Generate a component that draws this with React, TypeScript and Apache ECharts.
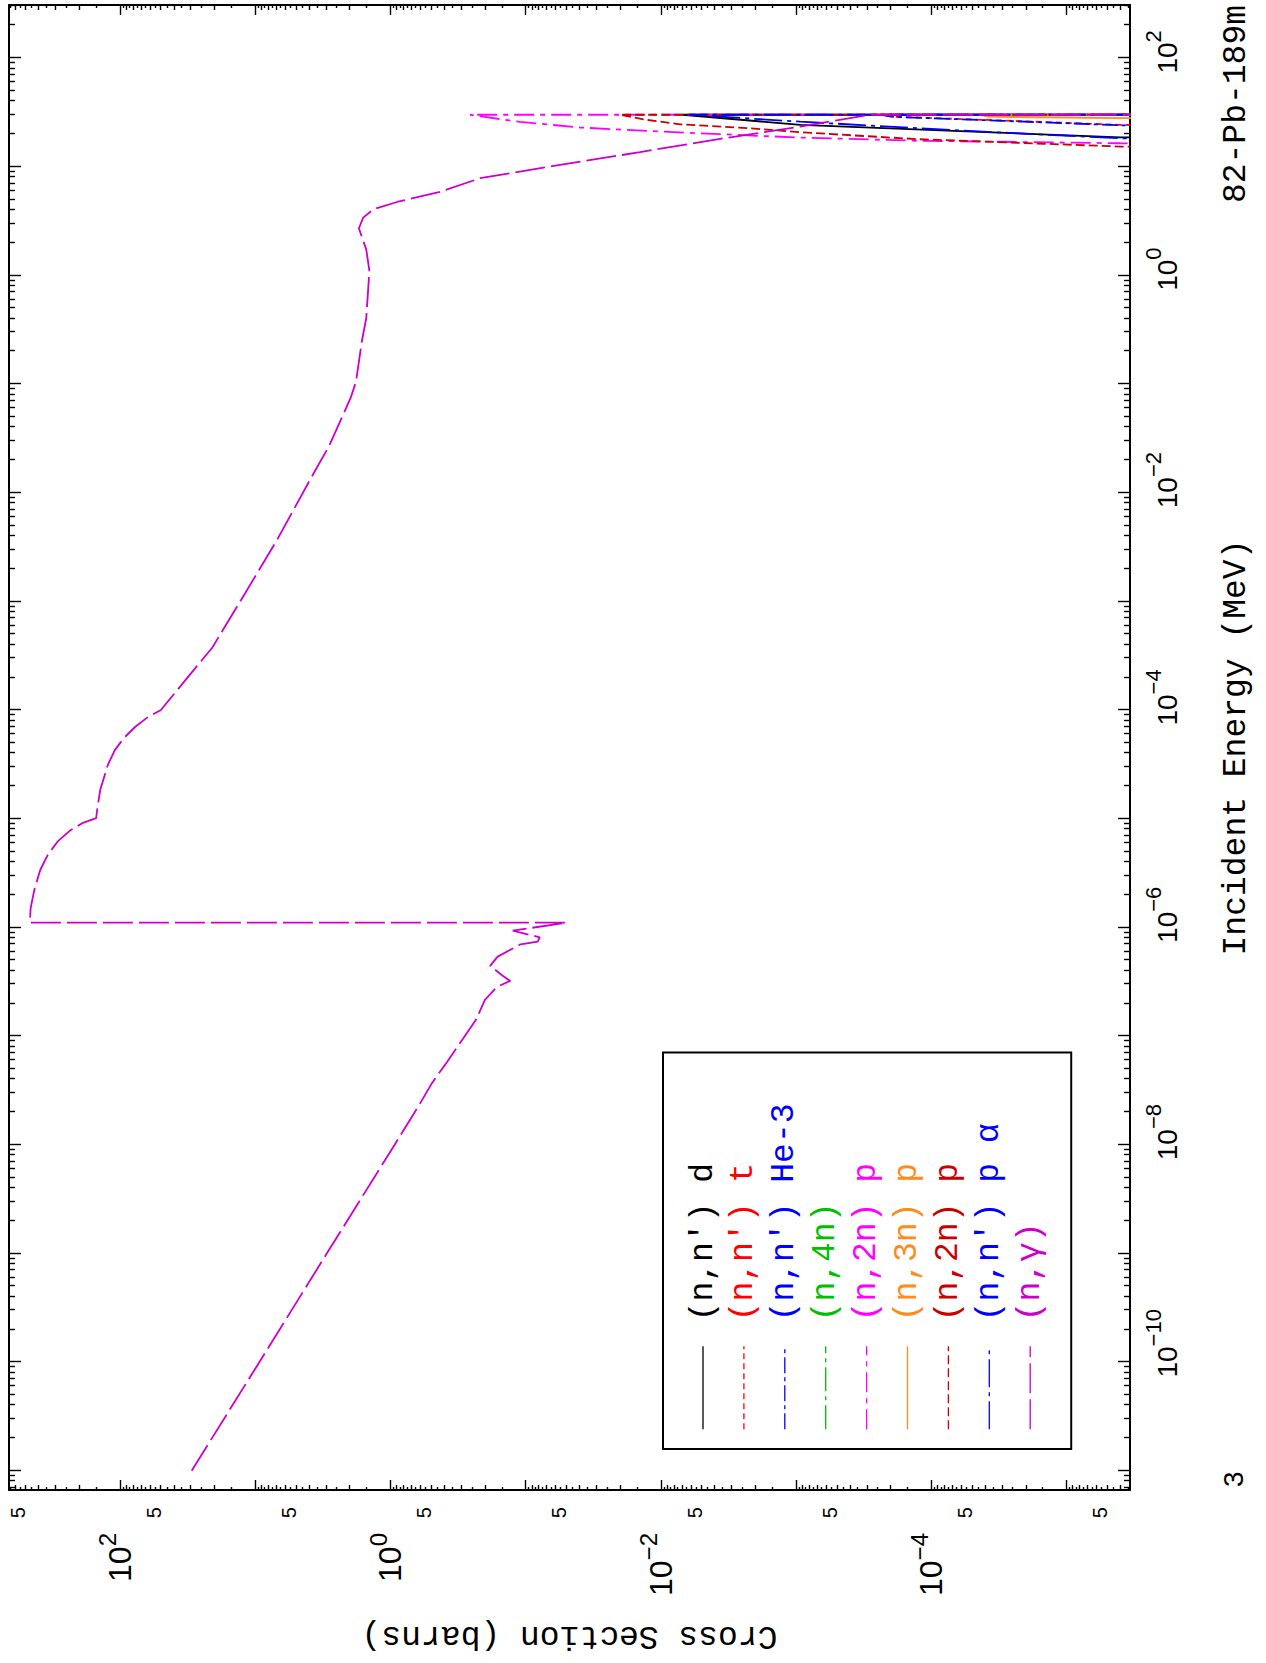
import React, { useEffect, useRef } from "react";
import * as echarts from "echarts";

// ---------------- data (incident energy in MeV, cross section in barns) ----------------
const energyAxisRange = [6.64e-12, 307];
const sigmaAxisRange = [3.39e-6, 662];

const energyLabelExps = [-10, -8, -6, -4, -2, 0, 2];
const sigmaLabelExps = [2, 0, -2, -4];
const sigmaFiveExps = [-6, -5, -4, -3, -2, -1, 0, 1, 2];

const nnD: [number, number][] = [
  [18.4, 1e-6], [18.6, 4.0e-6], [21.2, 6.1e-5], [24.2, 9.3e-4], [30, 6.9e-3], [30, 1e-7],
];
const nnT: [number, number][] = [
  [23.9, 1e-6], [24.2, 4.0e-6], [26.6, 3.1e-5], [28.8, 1.95e-4], [30, 2.4e-4], [30, 1e-7],
];
const nnHe3: [number, number][] = [
  [23.7, 1e-6], [24.0, 4.0e-6], [26.4, 3.0e-5], [28.7, 1.9e-4], [30, 2.35e-4], [30, 1e-7],
];
const n4n: [number, number][] = [];
const n2nP: [number, number][] = [
  [16.2, 1e-6], [16.4, 4.0e-6], [17.3, 1.27e-4], [18.5, 9.3e-4], [20.0, 4.1e-3], [21.3, 0.0127],
  [22.9, 0.0396], [25.8, 0.11], [28.8, 0.207], [30, 0.258], [30, 1e-7],
];
const n3nP: [number, number][] = [
  [27.8, 1e-6], [27.9, 4.0e-6], [28.8, 3.76e-5], [30, 4.35e-5], [30, 1e-7],
];
const n2nPb: [number, number][] = [
  [15.1, 1e-6], [15.3, 4.0e-6], [17.9, 1.27e-4], [20.7, 9.3e-4], [22.6, 2.3e-3], [24.5, 7.2e-3],
  [26.9, 0.0127], [30, 0.02], [30, 1e-7],
];
const nnPAlpha: [number, number][] = [
  [18.0, 1e-6], [18.2, 4.0e-6], [21.5, 6.1e-5], [25.9, 9.3e-4], [30, 6.2e-3], [30, 1e-7],
];
const nGamma: [number, number][] = [
  [1e-11, 29.5], [1e-10, 9.3], [1e-9, 2.95], [1e-8, 0.93], [2.34e-8, 0.61],
  [3.7e-8, 0.492], [5.77e-8, 0.381], [9.18e-8, 0.295], [1.41e-7, 0.233], [2.15e-7, 0.2],
  [2.83e-7, 0.163], [3.21e-7, 0.13], [3.57e-7, 0.147], [4.42e-7, 0.183], [5.37e-7, 0.161],
  [6.98e-7, 0.109], [7.38e-7, 0.0814], [8.1e-7, 0.0787], [9.31e-7, 0.1245], [1.104e-6, 0.0499],
  [1.104e-6, 464], [1.5e-6, 458], [2.21e-6, 430], [3.37e-6, 389], [4.64e-6, 342], [6.14e-6, 290],
  [7.87e-6, 231], [9.08e-6, 190], [1.01e-5, 150], [1.25e-5, 147], [1.84e-5, 140], [2.27e-5, 133],
  [3.12e-5, 123], [4.29e-5, 109], [5.53e-5, 93.4], [6.97e-5, 77.4], [8.61e-5, 62.1], [1.0e-4, 49.8],
  [1.11e-4, 46.5], [1.9e-4, 32.6], [3.74e-4, 20.8], [1.15e-3, 12.05], [3.55e-3, 7.0], [0.0122, 4.06],
  [0.0269, 2.84], [0.0743, 1.97], [0.104, 1.8], [0.254, 1.62], [0.4, 1.51], [1.1, 1.43],
  [1.73, 1.51], [2.71, 1.71], [3.39, 1.59], [4.06, 1.33], [4.75, 0.879], [5.85, 0.43], [7.82, 0.217],
  [10.36, 0.0557], [13.6, 0.01426], [18.0, 3.65e-3], [23.3, 9.3e-4], [30, 2.84e-4], [30, 1e-7],
];

const seriesKeys = ["nn_d", "nn_t", "nn_he3", "n_4n", "n_2n_p", "n_3n_p", "n_2n_p_b", "nn_p_alpha", "n_gamma"];
const legendLabels = [
  "(n,n\u2032) d", "(n,n\u2032) t", "(n,n\u2032) He-3", "(n,4n)", "(n,2n) p",
  "(n,3n) p", "(n,2n) p", "(n,n\u2032) p \u03b1", "(n,\u03b3)",
];
const seriesData = [nnD, nnT, nnHe3, n4n, n2nP, n3nP, n2nPb, nnPAlpha, nGamma];

// ---------------- styles ----------------
const seriesColors = ["#000000", "#ff0000", "#0000ff", "#00c000", "#ff00ff", "#ff8c1a", "#cc0000", "#0000ff", "#cc00cc"];
const seriesDashes: any[] = ["solid", [6, 4], [16, 4, 4, 4], [24, 5, 4, 5], [20, 6, 5, 6], "solid", [9, 4], [28, 5, 4, 5], [30, 6]];

const FONT_MONO = '"Liberation Mono", "DejaVu Sans Mono", monospace';
const FONT_SANS = '"Liberation Sans", Arial, sans-serif';

const W = 1663; // drawing is made in landscape and turned a quarter turn
const H = 1266;

const eLo = Math.log10(energyAxisRange[0]);
const eHi = Math.log10(energyAxisRange[1]);
const sLo = Math.log10(sigmaAxisRange[0]);
const sHi = Math.log10(sigmaAxisRange[1]);

function logTicks(lo: number, hi: number, mantissas: number[]) {
  const out: number[] = [];
  for (let n = Math.floor(lo) - 1; n <= Math.ceil(hi); n++) {
    for (const m of mantissas) {
      const v = n + Math.log10(m);
      if (v >= lo - 1e-9 && v <= hi + 1e-9) out.push(v);
    }
  }
  return out;
}

const energyMajor = logTicks(eLo, eHi, [1]);
const energyMinor = logTicks(eLo, eHi, [2, 3, 4, 5, 6, 7, 8, 9]);
const sigmaMajor = logTicks(sLo, sHi, [1]);
const sigmaMid = logTicks(sLo, sHi, [2, 3, 4, 5, 6, 7, 8, 9]);
const sigmaHalf = logTicks(sLo, sHi, [1.5, 2.5, 3.5, 4.5, 5.5, 6.5, 7.5, 8.5, 9.5]);

const supText = (n: number) => (n < 0 ? "\u2212" + -n : String(n));
const supWidth = (n: number, fs: number) => fs * (0.556 * String(Math.abs(n)).length + (n < 0 ? 0.584 : 0));

function tickAxis(position: string, min: number, max: number, values: number[], length: number, withLine: boolean, extra: any = {}) {
  return {
    type: "value",
    gridIndex: 0,
    position,
    min,
    max,
    axisLine: { show: withLine, onZero: false, lineStyle: { color: "#000", width: 2 } },
    axisTick: { show: true, inside: true, length, customValues: values, lineStyle: { color: "#000", width: 1.4 } },
    axisLabel: { show: false },
    splitLine: { show: false },
    ...extra,
  };
}

function buildOption() {
  const energyRich: any = {
    m: { fontFamily: FONT_SANS, fontSize: 28, lineHeight: 20, padding: [25, 0, 0, 0], color: "#000" },
    s: { fontFamily: FONT_SANS, fontSize: 22, lineHeight: 26, verticalAlign: "top", color: "#000" },
  };
  energyLabelExps.forEach((n, i) => {
    energyRich["w" + i] = { fontFamily: FONT_SANS, fontSize: 22, lineHeight: 20, width: supWidth(n, 22) };
  });

  const sigmaRich: any = {
    m: { fontFamily: FONT_SANS, fontSize: 32, lineHeight: 20, padding: [24, 0, 0, 0], color: "#000" },
    s: { fontFamily: FONT_SANS, fontSize: 24, lineHeight: 24, verticalAlign: "top", color: "#000" },
  };

  const nameStyle = { fontFamily: FONT_MONO, fontSize: 33, lineHeight: 33, color: "#000" };

  const xAxis = [
    tickAxis("bottom", eLo, eHi, energyMajor, 12, true, {
      axisLabel: {
        show: true,
        customValues: energyLabelExps,
        margin: 12,
        formatter: (v: number) => {
          const n = Math.round(v);
          const i = energyLabelExps.indexOf(n);
          return `{w${i}|\u00a0}{m|10}{s|${supText(n)}}`;
        },
        rich: energyRich,
      },
      name: "Incident Energy (MeV)",
      nameLocation: "middle",
      nameGap: 90,
      nameTextStyle: nameStyle,
    }),
    tickAxis("bottom", eLo, eHi, energyMinor, 6, false),
    tickAxis("top", eLo, eHi, energyMajor, 12, true),
    tickAxis("top", eLo, eHi, energyMinor, 6, false),
  ];

  const yAxis = [
    tickAxis("left", sLo, sHi, sigmaMajor, 10, true, {
      axisLabel: {
        show: true,
        customValues: sigmaLabelExps,
        margin: 43,
        verticalAlign: "bottom",
        formatter: (v: number) => `{m|10}{s|${supText(Math.round(v))}}`,
        rich: sigmaRich,
      },
      name: "Cross Section (barns)",
      nameLocation: "middle",
      nameGap: 129,
      nameTextStyle: nameStyle,
    }),
    tickAxis("left", sLo, sHi, sigmaMid, 5, false, {
      axisLabel: {
        show: true,
        customValues: sigmaFiveExps.map((n) => n + Math.log10(5)),
        margin: 17,
        verticalAlign: "bottom",
        fontFamily: FONT_SANS,
        fontSize: 20,
        lineHeight: 14,
        color: "#000",
        formatter: () => "5",
      },
    }),
    tickAxis("left", sLo, sHi, sigmaHalf, 3, false),
    tickAxis("right", sLo, sHi, sigmaMajor, 10, true),
    tickAxis("right", sLo, sHi, sigmaMid, 5, false),
    tickAxis("right", sLo, sHi, sigmaHalf, 3, false),
  ];

  const series = seriesKeys.map((key, i) => ({
    type: "line",
    name: key,
    xAxisIndex: 0,
    yAxisIndex: 0,
    showSymbol: false,
    symbol: "none",
    clip: true,
    lineStyle: { color: seriesColors[i], width: 1.8, type: seriesDashes[i] },
    itemStyle: { color: seriesColors[i] },
    data: seriesData[i].map(([e, s]) => [Math.log10(e), Math.log10(s)]),
  }));

  return {
    animation: false,
    backgroundColor: "#fff",
    grid: { left: 173, right: 5, top: 9, bottom: 136, containLabel: false, outerBoundsMode: "none" },
    xAxis,
    yAxis,
    legend: {
      show: true,
      orient: "vertical",
      left: 214,
      top: 663,
      padding: [23.5, 51, 24.5, 19],
      itemWidth: 83,
      itemHeight: 14,
      itemGap: 7.9,
      selectedMode: false,
      borderColor: "#000",
      borderWidth: 2,
      borderRadius: 0,
      backgroundColor: "#fff",
      itemStyle: { opacity: 0 },
      lineStyle: { width: 1.3 },
      textStyle: { fontFamily: FONT_MONO, fontSize: 33, lineHeight: 33, padding: [0, 0, 0, 20] },
      formatter: (name: string) => legendLabels[seriesKeys.indexOf(name)],
      data: seriesKeys.map((k, i) => ({ name: k, textStyle: { color: seriesColors[i] } })),
    },
    graphic: [
      {
        type: "text",
        x: 176,
        y: 1247,
        style: {
          text: "3",
          fill: "#000",
          fontFamily: FONT_SANS,
          fontSize: 28,
          align: "left",
          verticalAlign: "bottom",
          textAlign: "left",
          textVerticalAlign: "bottom",
        },
      },
      {
        type: "text",
        x: 1658,
        y: 1253,
        style: {
          text: "82-Pb-189m",
          fill: "#000",
          fontFamily: FONT_MONO,
          fontSize: 33,
          align: "right",
          verticalAlign: "bottom",
          textAlign: "right",
          textVerticalAlign: "bottom",
        },
      },
    ],
    series,
  };
}

export default function App() {
  const ref = useRef<HTMLDivElement>(null);
  useEffect(() => {
    if (!ref.current) return;
    const chart = echarts.init(ref.current, undefined, { renderer: "svg", width: W, height: H });
    chart.setOption(buildOption() as any);
    return () => chart.dispose();
  }, []);
  return (
    <div
      style={{
        position: "absolute",
        left: 0,
        top: 0,
        width: H,
        height: W,
        overflow: "hidden",
        background: "#fff",
      }}
    >
      <div
        ref={ref}
        style={{
          position: "absolute",
          left: 0,
          top: 0,
          width: W,
          height: H,
          transformOrigin: "0 0",
          transform: `translate(0px, ${W}px) rotate(-90deg)`,
        }}
      />
    </div>
  );
}
